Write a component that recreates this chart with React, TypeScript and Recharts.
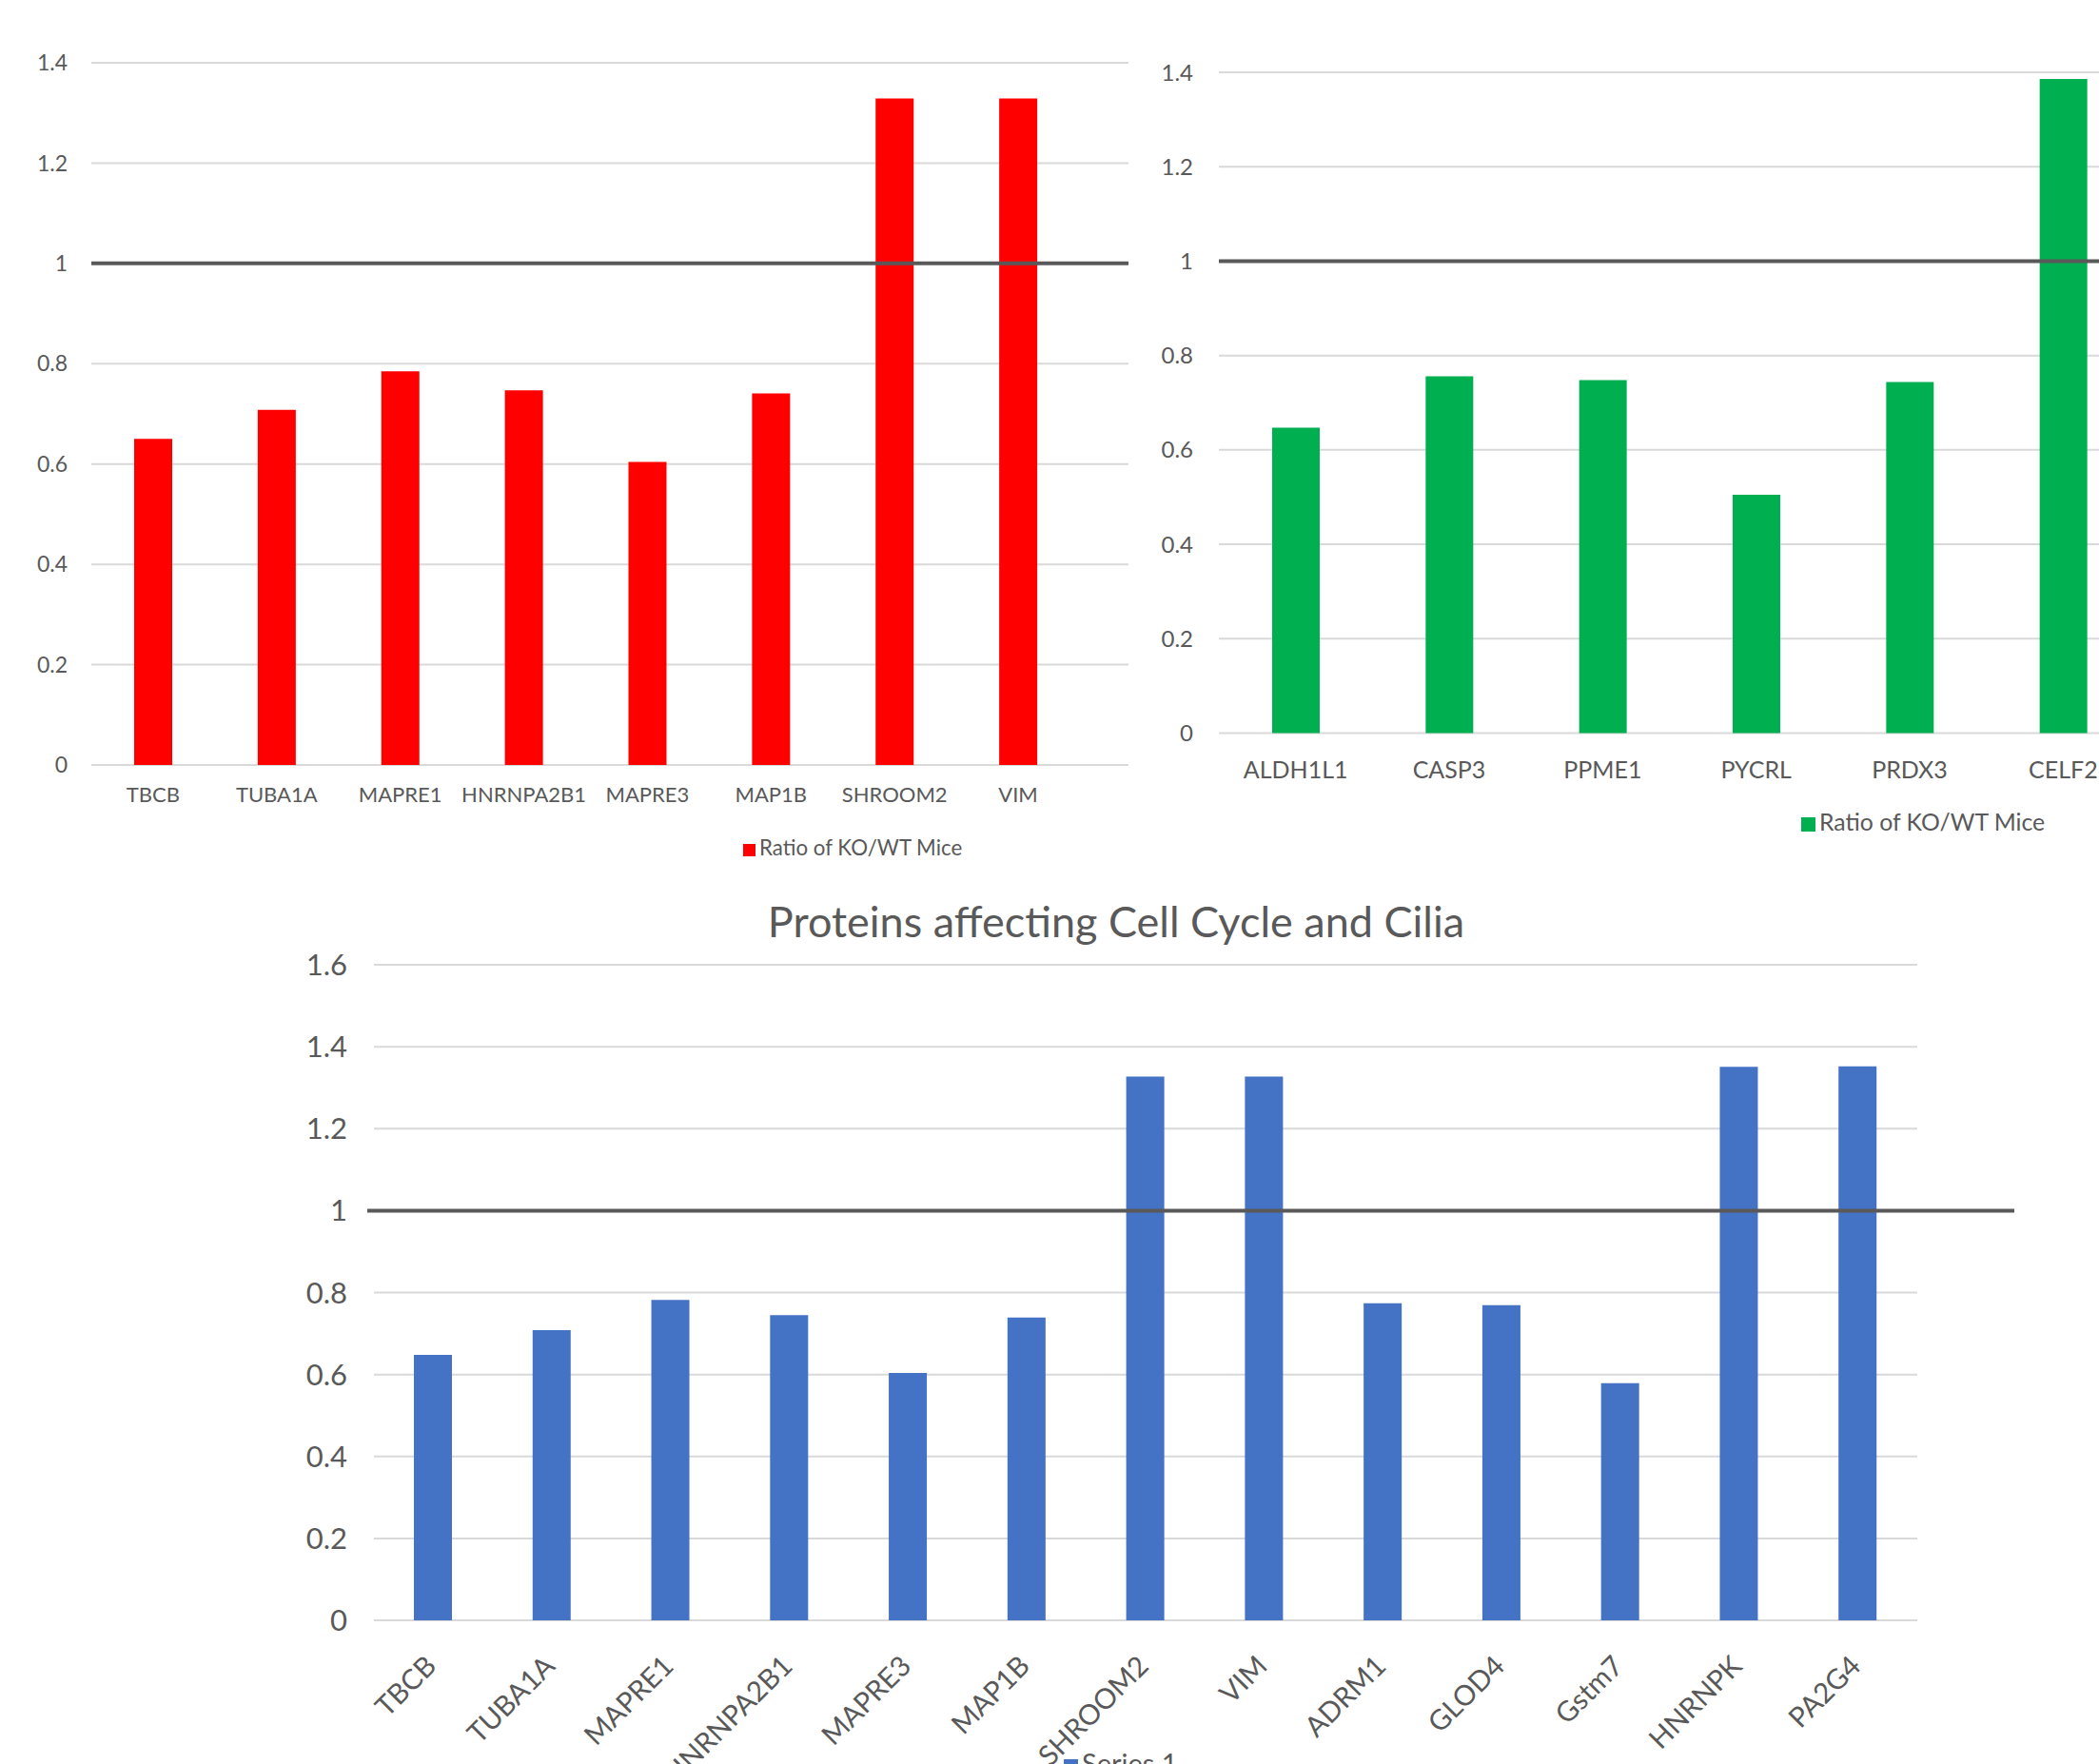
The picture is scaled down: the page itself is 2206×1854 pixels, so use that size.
import React from 'react';
import { BarChart, Bar, XAxis, YAxis, CartesianGrid, Legend, ReferenceLine } from 'recharts';

// top left panel
const cytoCategories = ['TBCB', 'TUBA1A', 'MAPRE1', 'HNRNPA2B1', 'MAPRE3', 'MAP1B', 'SHROOM2', 'VIM'];
const cytoValues = [0.65, 0.708, 0.785, 0.747, 0.604, 0.741, 1.329, 1.329];

// top right panel
const metabCategories = ['ALDH1L1', 'CASP3', 'PPME1', 'PYCRL', 'PRDX3', 'CELF2'];
const metabValues = [0.647, 0.756, 0.748, 0.505, 0.744, 1.386];

// bottom panel
const cycleCategories = [
  'TBCB', 'TUBA1A', 'MAPRE1', 'HNRNPA2B1', 'MAPRE3', 'MAP1B', 'SHROOM2',
  'VIM', 'ADRM1', 'GLOD4', 'Gstm7', 'HNRNPK', 'PA2G4',
];
const cycleValues = [0.648, 0.708, 0.782, 0.745, 0.604, 0.739, 1.327, 1.327, 0.774, 0.769, 0.579, 1.351, 1.352];

const ratioTicks = [0, 0.2, 0.4, 0.6, 0.8, 1, 1.2, 1.4];
const cycleTicks = [0, 0.2, 0.4, 0.6, 0.8, 1, 1.2, 1.4, 1.6];

const ratioSeries = 'Ratio of KO/WT Mice';
const cycleSeries = 'Series 1';
const cycleTitle = 'Proteins affecting Cell Cycle and Cilia';
const baseline = 1;

const cytoRows = cytoCategories.map((name, i) => ({ name, value: cytoValues[i] }));
const metabRows = metabCategories.map((name, i) => ({ name, value: metabValues[i] }));
const cycleRows = cycleCategories.map((name, i) => ({ name, value: cycleValues[i] }));

const FONT = 'Lato, "Noto Sans", sans-serif';
const TEXT = '#595959';
const GRID = '#D9D9D9';
const LINE = '#595959';

const legendText = (value: string) => <span style={{ color: TEXT }}>{value}</span>;

function CytoChart() {
  return (
    <div style={{ position: 'absolute', left: 0, top: 0 }}>
      <BarChart width={1200} height={920} data={cytoRows} margin={{ top: 66, right: 14, bottom: 76, left: 36 }}>
        <CartesianGrid vertical={false} stroke={GRID} strokeWidth={2} />
        <XAxis
          dataKey="name"
          height={40}
          interval={0}
          axisLine={false}
          tickLine={false}
          tickSize={0}
          tickMargin={23}
          padding={{ left: 0, right: 51 }}
          tick={{ fill: TEXT, fontSize: 22, fontFamily: FONT }}
        />
        <YAxis
          width={60}
          domain={[0, 1.4]}
          ticks={ratioTicks}
          axisLine={false}
          tickLine={false}
          tickSize={0}
          tickMargin={25}
          tick={{ fill: TEXT, fontSize: 23, fontFamily: FONT }}
        />
        <Bar dataKey="value" name={ratioSeries} fill="#FF0000" barSize={40} isAnimationActive={false} />
        <ReferenceLine y={baseline} stroke={LINE} strokeWidth={4} />
        <Legend
          verticalAlign="middle"
          align="center"
          iconType="square"
          iconSize={13}
          formatter={legendText}
          wrapperStyle={{ left: 781, top: 878, width: 'auto', fontFamily: FONT, fontSize: 22.3, lineHeight: '26px' }}
        />
      </BarChart>
    </div>
  );
}

function MetabChart() {
  return (
    <div style={{ position: 'absolute', left: 1180, top: 0 }}>
      <BarChart width={1080} height={920} data={metabRows} margin={{ top: 76, right: 11, bottom: 109.5, left: 41 }}>
        <CartesianGrid vertical={false} stroke={GRID} strokeWidth={2} />
        <XAxis
          dataKey="name"
          height={40}
          interval={0}
          axisLine={false}
          tickLine={false}
          tickSize={0}
          tickMargin={30}
          tick={{ fill: TEXT, fontSize: 25, fontFamily: FONT }}
        />
        <YAxis
          width={60}
          domain={[0, 1.4]}
          ticks={ratioTicks}
          axisLine={false}
          tickLine={false}
          tickSize={0}
          tickMargin={27}
          tick={{ fill: TEXT, fontSize: 24, fontFamily: FONT }}
        />
        <Bar dataKey="value" name={ratioSeries} fill="#00B050" barSize={50} isAnimationActive={false} />
        <ReferenceLine y={baseline} stroke={LINE} strokeWidth={4} />
        <Legend
          verticalAlign="middle"
          align="center"
          iconType="square"
          iconSize={15}
          formatter={legendText}
          wrapperStyle={{ left: 713, top: 849, width: 'auto', fontFamily: FONT, fontSize: 24.8, lineHeight: '29px' }}
        />
      </BarChart>
    </div>
  );
}

// the drawn 1.0 line runs past the plot on the right
const longLine = (p: any) => (
  <line x1={p.x1 - 7} y1={p.y1} x2={p.x2 + 102} y2={p.y2} stroke={LINE} strokeWidth={4} />
);

function CycleChart() {
  return (
    <div style={{ position: 'absolute', left: 0, top: 920 }}>
      <BarChart width={2206} height={934} data={cycleRows} margin={{ top: 94, right: 191, bottom: 31, left: 313 }}>
        <CartesianGrid vertical={false} stroke={GRID} strokeWidth={2} />
        <XAxis
          dataKey="name"
          height={120}
          interval={0}
          axisLine={false}
          tickLine={false}
          tickSize={0}
          tickMargin={35}
          angle={-45}
          textAnchor="end"
          tick={{ fill: TEXT, fontSize: 29.5, fontFamily: FONT, textAnchor: 'end', dx: -10 }}
        />
        <YAxis
          width={80}
          domain={[0, 1.6]}
          ticks={cycleTicks}
          axisLine={false}
          tickLine={false}
          tickSize={0}
          tickMargin={28}
          tick={{ fill: TEXT, fontSize: 31, fontFamily: FONT }}
        />
        <Bar dataKey="value" name={cycleSeries} fill="#4472C4" barSize={40} isAnimationActive={false} />
        <ReferenceLine y={baseline} shape={longLine} />
        <Legend
          verticalAlign="middle"
          align="center"
          iconType="square"
          iconSize={15}
          formatter={legendText}
          wrapperStyle={{ left: 1118, top: 915, width: 'auto', fontFamily: FONT, fontSize: 29, lineHeight: '35px' }}
        />
      </BarChart>
    </div>
  );
}

export default function App() {
  return (
    <div
      style={{
        position: 'absolute',
        left: 0,
        top: 0,
        width: 2206,
        height: 1854,
        overflow: 'hidden',
        background: '#fff',
        fontFamily: FONT,
      }}
    >
      <CytoChart />
      <MetabChart />
      <div
        style={{
          position: 'absolute',
          left: 573,
          top: 946,
          width: 1200,
          textAlign: 'center',
          color: TEXT,
          fontSize: 45,
          lineHeight: '45px',
          fontFamily: FONT,
        }}
      >
        {cycleTitle}
      </div>
      <CycleChart />
    </div>
  );
}
